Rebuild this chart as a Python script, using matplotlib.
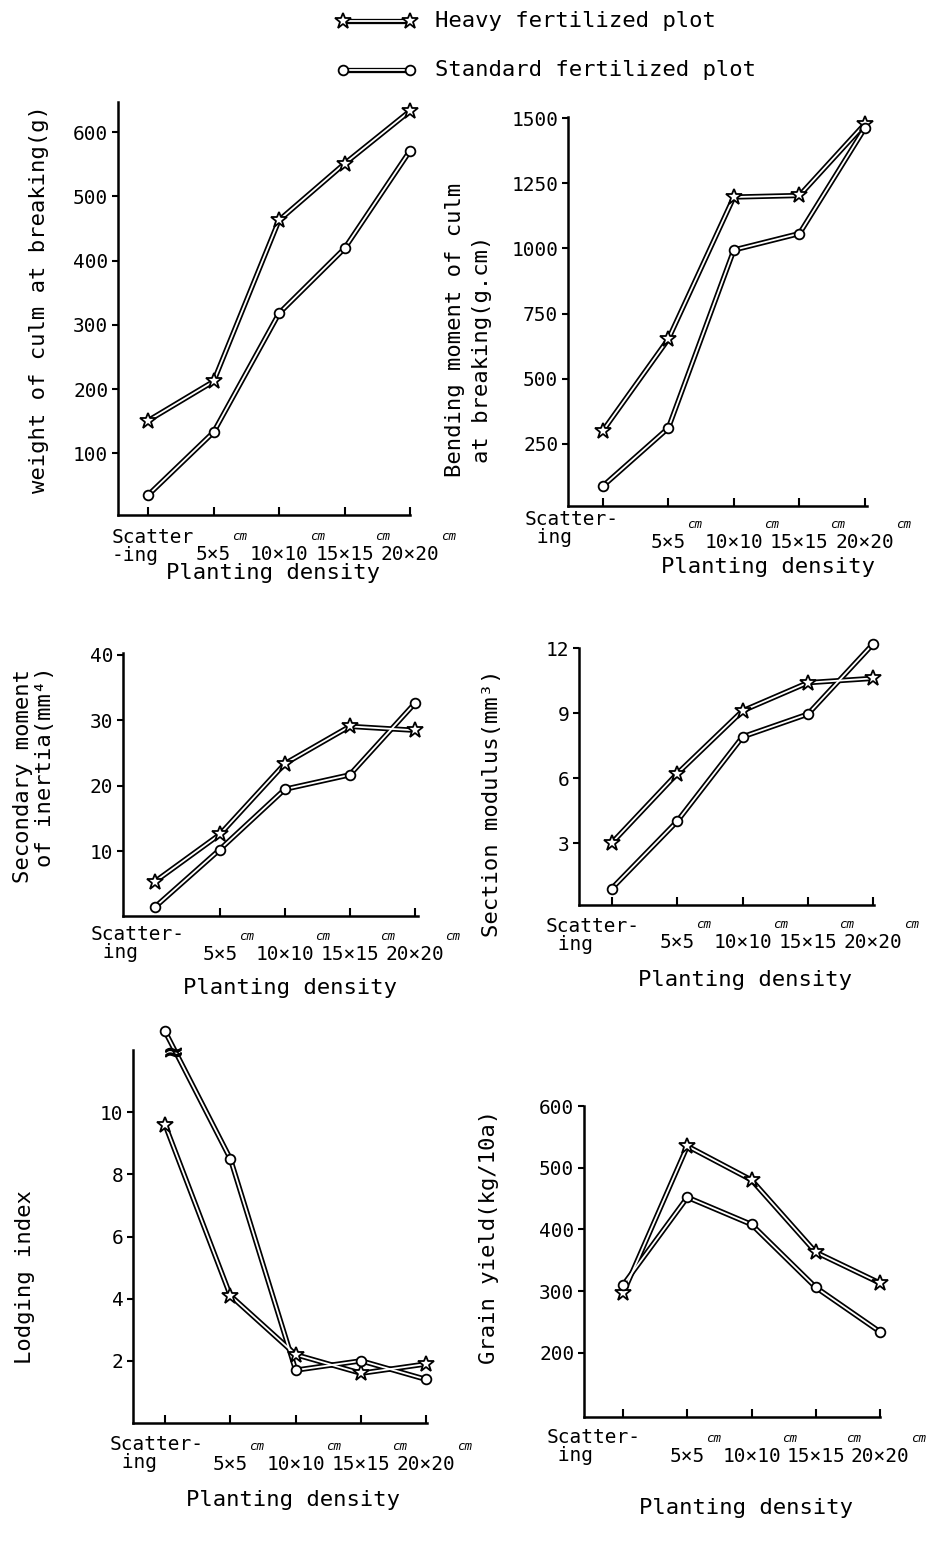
import matplotlib
matplotlib.use('Agg')
import matplotlib.pyplot as plt
from matplotlib.lines import Line2D

plt.rcParams['font.family'] = ['DejaVu Sans Mono', 'DejaVu Sans']

# planting density categories (x axis of every panel)
density = ['Scatter-', '5×5', '10×10', '15×15', '20×20']

# values: heavy / standard fertilized plot
weight_heavy = [151, 212, 463, 551, 633]
weight_std = [35, 133, 318, 419, 571]
bending_heavy = [300, 652, 1197, 1203, 1478]
bending_std = [88, 311, 994, 1057, 1462]
inertia_heavy = [5.4, 12.6, 23.4, 29.1, 28.5]
inertia_std = [1.5, 10.3, 19.5, 21.7, 32.6]
modulus_heavy = [3.0, 6.2, 9.1, 10.4, 10.6]
modulus_std = [0.9, 4.0, 7.9, 8.95, 12.2]
lodging_heavy = [9.6, 4.1, 2.2, 1.6, 1.9]
lodging_std = [21.1, 8.5, 1.7, 2.0, 1.4]
yield_heavy = [297, 535, 480, 363, 313]
yield_std = [310, 452, 408, 306, 234]

W, H = 934, 1545
fig = plt.figure(figsize=(W / 100, H / 100), dpi=100)
fig.patch.set_facecolor('white')


def px(x, y):
    return x / W, 1 - y / H


def make_ax(left, top, right, bottom, xlim, ylim, yticks, xticks=range(5)):
    ax = fig.add_axes([left / W, 1 - bottom / H, (right - left) / W, (bottom - top) / H])
    ax.set_xlim(*xlim)
    ax.set_ylim(*ylim)
    ax.set_yticks(yticks)
    ax.set_xticks(list(xticks))
    ax.set_xticklabels([])
    for s in ['top', 'right']:
        ax.spines[s].set_visible(False)
    for s in ['left', 'bottom']:
        ax.spines[s].set_linewidth(1.8)
    ax.tick_params(axis='y', direction='out', length=4, width=1.5, labelsize=14, pad=3)
    ax.tick_params(axis='x', direction='in', length=6, width=1.5)
    return ax


def draw_series(ax, y, marker, ms):
    x = range(len(y))
    ax.plot(x, y, color='black', lw=3.8, zorder=2, clip_on=False, solid_capstyle='round')
    ax.plot(x, y, color='white', lw=1.3, zorder=3, clip_on=False)
    ax.plot(x, y, ls='none', marker=marker, ms=ms, mfc='white', mec='black', mew=1.3,
            zorder=4, clip_on=False)


def density_labels(ax, scat_text, scat_dx, scat_dy, num_dy):
    k = 0.72  # pixels -> points
    tr = ax.get_xaxis_transform()
    ax.annotate(scat_text, xy=(0, 0), xycoords=tr, xytext=(scat_dx * k, -scat_dy * k),
                textcoords='offset points', ha='center', va='top', fontsize=14,
                linespacing=0.95, multialignment='left')
    for i in range(1, len(density)):
        ax.annotate(density[i], xy=(i, 0), xycoords=tr, xytext=(0, -num_dy * k),
                    textcoords='offset points', ha='center', va='top', fontsize=14)
        halfw = len(density[i]) * 0.602 * 14 / 2
        ax.annotate('cm', xy=(i, 0), xycoords=tr, xytext=(halfw + 1, -(num_dy - 15) * k),
                    textcoords='offset points', ha='left', va='top', fontsize=9,
                    style='italic')


def xlabel(x, y):
    fig.text(*px(x, y), 'Planting density', ha='center', va='top', fontsize=16)


def ylabel(x, y, text, va='center'):
    fig.text(*px(x, y), text, rotation=90, ha='center', va=va, fontsize=16)


# --- weight of culm at breaking
ax1 = make_ax(118, 102, 410, 515, (-0.46, 4.0), (4, 647), [100, 200, 300, 400, 500, 600])
draw_series(ax1, weight_heavy, '*', 12)
draw_series(ax1, weight_std, 'o', 7)
density_labels(ax1, 'Scatter\n-ing', 5, 13, 30)
xlabel(273, 563)
ylabel(39, 299, 'weight of culm at breaking(g)')

# --- bending moment
ax2 = make_ax(568, 117, 867, 506, (-0.53, 4.03), (12, 1504), [250, 500, 750, 1000, 1250, 1500])
draw_series(ax2, bending_heavy, '*', 12)
draw_series(ax2, bending_std, 'o', 7)
density_labels(ax2, 'Scatter-\n ing', -31, 4, 27)
xlabel(768, 557)
ylabel(455, 477, 'Bending moment of culm', va='bottom')
ylabel(482, 463, 'at breaking(g.cm)', va='bottom')

# --- secondary moment of inertia
ax3 = make_ax(123, 653, 418, 916, (-0.49, 4.05), (0.15, 40.3), [10, 20, 30, 40], xticks=range(1, 5))
draw_series(ax3, inertia_heavy, '*', 12)
draw_series(ax3, inertia_std, 'o', 7)
density_labels(ax3, 'Scatter-\n ing', -17, 9, 29)
xlabel(290, 978)
ylabel(23, 883, 'Secondary moment', va='bottom')
ylabel(45, 867, 'of inertia(mm⁴)', va='bottom')

# --- section modulus
ax4 = make_ax(579, 648, 874, 905, (-0.5, 4.01), (0.14, 12), [3, 6, 9, 12])
draw_series(ax4, modulus_heavy, '*', 12)
draw_series(ax4, modulus_std, 'o', 7)
density_labels(ax4, 'Scatter-\n ing', -19, 12, 28)
xlabel(745, 970)
ylabel(492, 803, 'Section modulus(mm³)')

# --- lodging index (first standard value is off the scale: 21.1)
cap = 12.6
ax5 = make_ax(133, 1050, 427, 1423, (-0.49, 4.01), (0, 12), [2, 4, 6, 8, 10])
draw_series(ax5, lodging_heavy, '*', 12)
draw_series(ax5, [min(v, cap) for v in lodging_std], 'o', 7)
ax5.plot(0.12, 11.95, marker=r'$\approx$', ms=11, color='black', zorder=5, clip_on=False)
ax5.annotate(f'{lodging_std[0]}', xy=(0, cap), xytext=(18, 4), textcoords='offset points',
             ha='left', va='bottom', fontsize=15)
density_labels(ax5, 'Scatter-\n ing', -8, 12, 32)
xlabel(293, 1490)
ylabel(25, 1277, 'Lodging index')

# --- grain yield
ax6 = make_ax(584, 1106, 880, 1417, (-0.61, 4.0), (96, 600), [200, 300, 400, 500, 600])
draw_series(ax6, yield_heavy, '*', 12)
draw_series(ax6, yield_std, 'o', 7)
density_labels(ax6, 'Scatter-\n ing', -30, 11, 30)
xlabel(746, 1498)
ylabel(489, 1237, 'Grain yield(kg/10a)')

# --- legend at the top
for ypx, marker, ms, label in [(21, '*', 12, 'Heavy fertilized plot'),
                               (70, 'o', 7, 'Standard fertilized plot')]:
    xs = [343 / W, 410 / W]
    ys = [1 - ypx / H] * 2
    fig.add_artist(Line2D(xs, ys, color='black', lw=3.8, transform=fig.transFigure))
    fig.add_artist(Line2D(xs, ys, color='white', lw=1.3, transform=fig.transFigure))
    fig.add_artist(Line2D(xs, ys, ls='none', marker=marker, ms=ms, mfc='white', mec='black',
                          mew=1.3, transform=fig.transFigure))
    fig.text(*px(435, ypx), label, ha='left', va='center', fontsize=16)

fig.savefig('out.png', dpi=100)
